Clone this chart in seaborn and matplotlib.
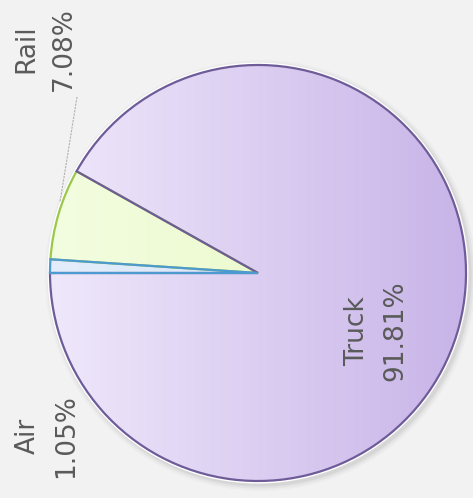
import numpy as np
import matplotlib
matplotlib.use("Agg")
import matplotlib.pyplot as plt
import seaborn as sns
from matplotlib.colors import LinearSegmentedColormap
from matplotlib.patches import Circle

sns.set_theme(style="white")
plt.rcParams['font.family'] = ['DejaVu Sans']

# Data
categories = ["Air", "Rail", "Truck"]
shares = [1.05, 7.08, 91.81]
labels = ["Air\n1.05%", "Rail\n7.08%", "Truck\n91.81%"]

face_left = ["#e3edfb", "#f3fde0", "#efe8fb"]
face_right = ["#d4e4f7", "#e6f8c0", "#c8b4e8"]
edge_colors = ["#4d9ad0", "#9bc84a", "#6e5c99"]

W, H, DPI = 473, 498, 100
fig = plt.figure(figsize=(W / DPI, H / DPI), dpi=DPI)
fig.patch.set_facecolor("#f2f2f2")
ax = fig.add_axes([0, 0, 1, 1])
ax.set_facecolor("#f2f2f2")

cx, cy, R = 258, 273, 208
x0 = -cx / R
x1 = (W - cx) / R
y1 = cy / R
y0 = -(H - cy) / R

# shadow / glow
for r, a in [(1.035, 0.05), (1.025, 0.08), (1.015, 0.12)]:
    ax.add_patch(Circle((0.012, -0.012), r, color="#808080", alpha=a, lw=0, zorder=0))
ax.add_patch(Circle((0, 0), 1.012, color="white", lw=0, zorder=0.5))

wedges, _ = ax.pie(shares, startangle=180, counterclock=False, radius=1.0,
                   wedgeprops=dict(linewidth=1.6), frame=False)

grad = np.linspace(0, 1, 256).reshape(1, -1)
fill_z = [3, 2, 1]
edge_z = [6, 4, 5]
for w, cl, cr, ec, z, ez in zip(wedges, face_left, face_right, edge_colors, fill_z, edge_z):
    w.set_facecolor("none")
    w.set_edgecolor(ec)
    w.set_zorder(ez)
    cmap = LinearSegmentedColormap.from_list("g", [cl, cr])
    im = ax.imshow(grad, cmap=cmap, extent=[-1, 1, -1, 1], aspect="auto",
                   zorder=z, interpolation="bicubic")
    im.set_clip_path(w)
ax.set_xlim(x0, x1)
ax.set_ylim(y0, y1)
ax.set_aspect("auto")
ax.axis("off")

def px(x, y):
    return ((x - cx) / R, (cy - y) / R)

label_pos = [px(47, 436), px(45, 49), px(376, 331)]
for lab, (lx, ly) in zip(labels, label_pos):
    ax.text(lx, ly, lab, rotation=90, ha="center", va="center",
            multialignment="center", fontsize=19, color="#5a5a5a",
            linespacing=1.6, zorder=10)

# leader line for Rail
lx0, ly0 = px(77, 97)
lx1, ly1 = px(60, 202)
ax.plot([lx0, lx1], [ly0, ly1], color="#b0b0b0", lw=0.8, ls=(0, (2, 1)), zorder=9)

fig.savefig("out.png", dpi=DPI, facecolor=fig.get_facecolor())
